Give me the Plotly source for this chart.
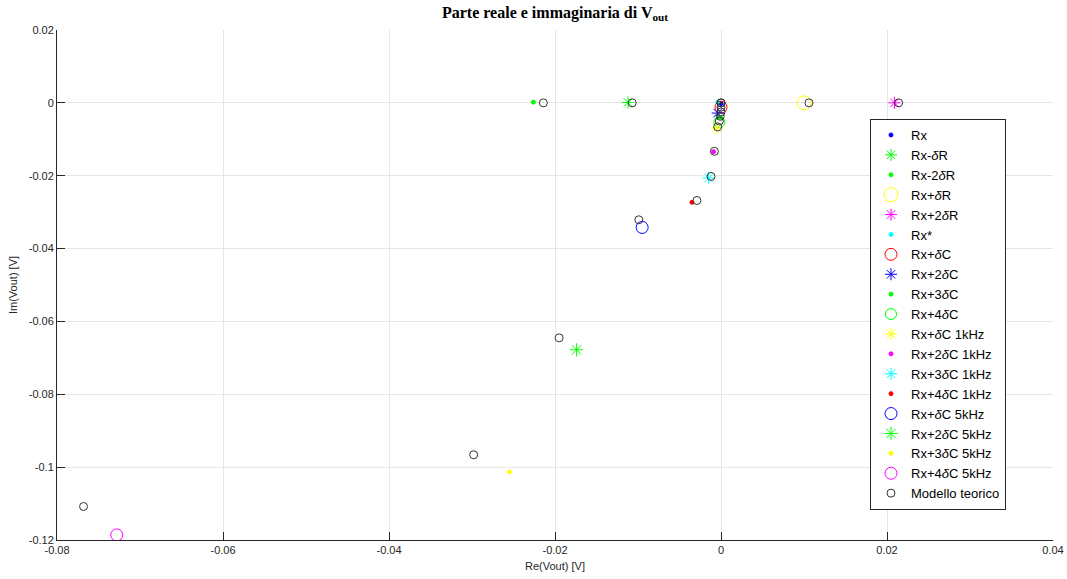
import plotly.graph_objects as go

# ---------------- data ----------------
series_names = [
    "Rx", "Rx-<i>δ</i>R", "Rx-2<i>δ</i>R", "Rx+<i>δ</i>R", "Rx+2<i>δ</i>R", "Rx*",
    "Rx+<i>δ</i>C", "Rx+2<i>δ</i>C", "Rx+3<i>δ</i>C", "Rx+4<i>δ</i>C",
    "Rx+<i>δ</i>C 1kHz", "Rx+2<i>δ</i>C 1kHz", "Rx+3<i>δ</i>C 1kHz", "Rx+4<i>δ</i>C 1kHz",
    "Rx+<i>δ</i>C 5kHz", "Rx+2<i>δ</i>C 5kHz", "Rx+3<i>δ</i>C 5kHz", "Rx+4<i>δ</i>C 5kHz",
]
meas_re = [0.0000, -0.0112, -0.0226, 0.0100, 0.0209, -0.0004,
           0.0000, -0.0004, -0.0001, -0.0002,
           -0.0005, -0.0009, -0.0015, -0.0035,
           -0.0095, -0.0174, -0.0255, -0.0728]
meas_im = [-0.0002, 0.0001, 0.0002, 0.0000, 0.0000, 0.0002,
           -0.0012, -0.0028, -0.0040, -0.0053,
           -0.0069, -0.0134, -0.0206, -0.0273,
           -0.0342, -0.0678, -0.1013, -0.1186]

model_name = "Modello teorico"
model_re = [0.0000, -0.0107, -0.0214, 0.0106, 0.0214, 0.0000,
            0.0000, 0.0000, -0.0001, -0.0002,
            -0.0004, -0.0008, -0.0012, -0.0029,
            -0.0099, -0.0195, -0.0298, -0.0768]
model_im = [0.0000, 0.0000, 0.0000, 0.0000, 0.0000, 0.0000,
            -0.0012, -0.0025, -0.0037, -0.0050,
            -0.0066, -0.0133, -0.0202, -0.0268,
            -0.0321, -0.0645, -0.0966, -0.1108]

x_ticks = [-0.08, -0.06, -0.04, -0.02, 0, 0.02, 0.04]
x_ticklabels = ["-0.08", "-0.06", "-0.04", "-0.02", "0", "0.02", "0.04"]
y_ticks = [-0.12, -0.1, -0.08, -0.06, -0.04, -0.02, 0, 0.02]
y_ticklabels = ["-0.12", "-0.1", "-0.08", "-0.06", "-0.04", "-0.02", "0", "0.02"]

# ---------------- styles ----------------
B, G, Y, M, C, R = "#0000ff", "#00ff00", "#ffff00", "#ff00ff", "#00ffff", "#ff0000"
styles = [
    ("circle", B, 4), ("asterisk-open", G, 10), ("circle", G, 4), ("circle-open", Y, 14),
    ("asterisk-open", M, 10), ("circle", C, 4),
    ("circle-open", R, 12), ("asterisk-open", B, 10), ("circle", G, 4), ("circle-open", G, 11),
    ("asterisk-open", Y, 10), ("circle", M, 4), ("asterisk-open", C, 10), ("circle", R, 4),
    ("circle-open", B, 12), ("asterisk-open", G, 11), ("circle", Y, 4), ("circle-open", M, 12),
]

fig = go.Figure()
for name, xr, yi, (sym, col, sz) in zip(series_names, meas_re, meas_im, styles):
    fig.add_trace(go.Scatter(
        x=[xr], y=[yi], mode="markers", name=name,
        marker=dict(symbol=sym, color=col, size=sz, line=dict(color=col, width=1)),
    ))
fig.add_trace(go.Scatter(
    x=model_re, y=model_im, mode="markers", name=model_name,
    marker=dict(symbol="circle-open", color="#333333", size=8, line=dict(color="#333333", width=1)),
))

axis_font = dict(family="Liberation Sans, Arial, sans-serif", size=11, color="#262626")
fig.update_layout(
    width=1067, height=579,
    margin=dict(l=57, r=14, t=30, b=39, autoexpand=False),
    paper_bgcolor="white", plot_bgcolor="white",
    title=dict(text="<b>Parte reale e immaginaria di V<sub>out</sub></b>",
               x=0.5, xref="paper", xanchor="center", y=1 - 12 / 579, yanchor="middle",
               font=dict(family="Liberation Serif, serif", size=16, color="#000000")),
    showlegend=True,
    legend=dict(x=(870 - 57) / 996, y=(540 - 119) / 510, xanchor="left", yanchor="top",
                bgcolor="white", bordercolor="#262626", borderwidth=1,
                font=dict(family="Liberation Sans, Arial, sans-serif", size=13, color="#000000"),
                itemsizing="trace"),
    xaxis=dict(range=[-0.08, 0.04], tickvals=x_ticks, ticktext=x_ticklabels,
               showgrid=True, gridcolor="#e6e6e6", zeroline=False,
               showline=True, linecolor="#262626", linewidth=1,
               ticks="inside", ticklen=8, tickcolor="#262626",
               tickfont=axis_font,
               title=dict(text="Re(Vout) [V]", font=axis_font, standoff=7)),
    yaxis=dict(range=[-0.12, 0.02], tickvals=y_ticks, ticktext=y_ticklabels,
               showgrid=True, gridcolor="#e6e6e6", zeroline=False,
               showline=True, linecolor="#262626", linewidth=1,
               ticks="inside", ticklen=8, tickcolor="#262626",
               tickfont=axis_font,
               title=dict(text="Im(Vout) [V]", font=axis_font, standoff=8)),
)
fig.write_html("out.html")
